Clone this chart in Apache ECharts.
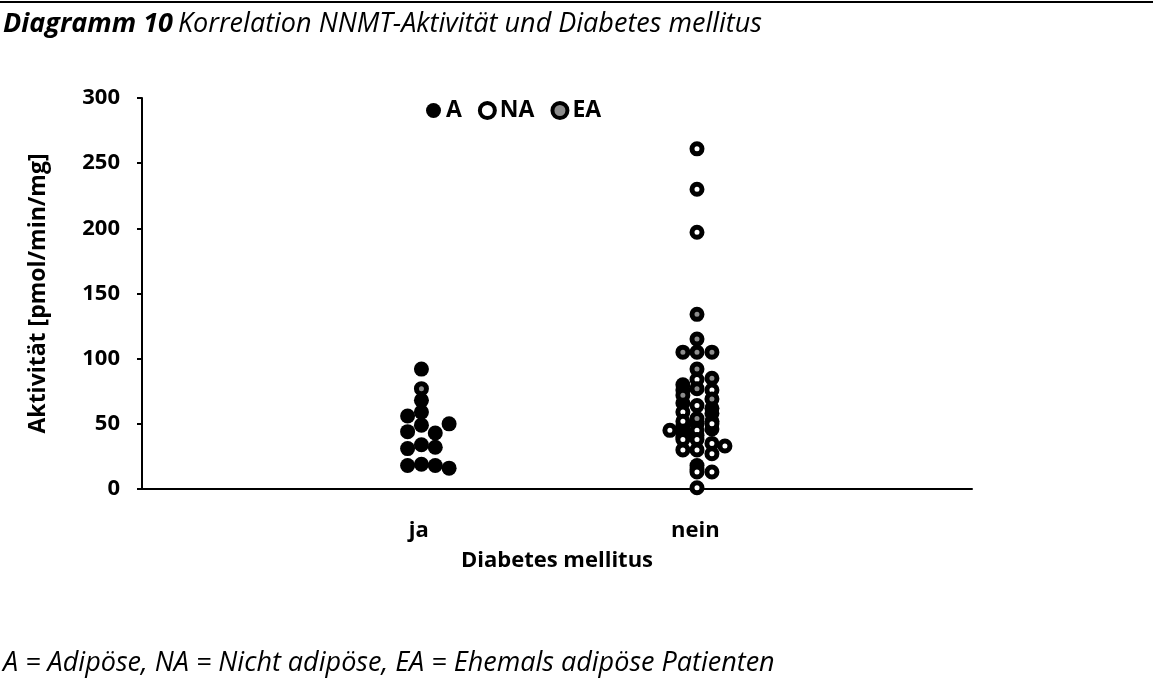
<!DOCTYPE html>
<html>
<head>
<meta charset="utf-8">
<script src="https://cdn.jsdelivr.net/npm/echarts@6/dist/echarts.min.js"></script>
<style>
html,body{margin:0;padding:0;background:#fff;}
#c{width:1153px;height:700px;}
</style>
</head>
<body>
<div id="c"></div>
<script>
// Categories on the x axis (value 1 = ja, value 2 = nein)
const categories = ['ja', 'nein'];
const yTicks = [0, 50, 100, 150, 200, 250, 300];

// [x position (category value with spread), activity]
const seriesA = [
  [1.01, 92], [1.01, 68], [1.01, 59], [1.01, 49], [1.01, 34], [1.01, 19],
  [0.96, 56], [0.96, 44], [0.96, 31], [0.96, 18],
  [1.06, 43], [1.06, 32], [1.06, 18],
  [1.11, 50], [1.11, 16],
  [1.955, 80], [1.955, 76], [1.955, 66], [2.06, 62], [2.06, 58], [2.06, 52], [2.06, 46],
  [1.955, 48], [1.955, 44], [1.955, 40], [2.006, 50],
  [2.006, 41], [2.006, 18], [2.006, 15]
];
const seriesNA = [
  [2.006, 261], [2.006, 230], [2.006, 197],
  [2.006, 84], [2.06, 76], [2.006, 64], [1.955, 59], [1.955, 52], [2.06, 50],
  [2.006, 45], [1.908, 45], [1.955, 38], [2.006, 38], [2.06, 35], [2.107, 33],
  [1.955, 30], [2.006, 30], [2.06, 27], [2.006, 13], [2.06, 13], [2.006, 1]
];
const seriesEA = [
  [1.01, 77],
  [2.006, 134], [2.006, 115], [1.955, 105], [2.006, 105], [2.06, 105],
  [2.006, 92], [2.06, 85], [2.006, 77], [1.955, 72], [2.06, 69], [2.006, 54]
];

const chart = echarts.init(document.getElementById('c'), null, {renderer: 'canvas'});
const FONT = '"Open Sans", "Noto Sans", sans-serif';

chart.setOption({
  backgroundColor: '#fff',
  animation: false,
  title: [
    {
      left: 3, top: 11, padding: 0,
      text: '{b|Diagramm 10} {i|Korrelation NNMT-Aktivität und Diabetes mellitus}',
      textStyle: {
        rich: {
          b: {fontFamily: FONT, fontSize: 27, fontWeight: 'bold', fontStyle: 'italic', color: '#000'},
          i: {fontFamily: FONT, fontSize: 27, fontWeight: 'normal', fontStyle: 'italic', color: '#000'}
        }
      }
    },
    {
      left: 3, top: 650, padding: 0,
      text: 'A = Adipöse, NA = Nicht adipöse, EA = Ehemals adipöse Patienten',
      textStyle: {fontFamily: FONT, fontSize: 27, fontWeight: 'normal', fontStyle: 'italic', color: '#000'}
    }
  ],
  graphic: [
    {type: 'line', shape: {x1: 0, y1: 2, x2: 1153, y2: 2}, style: {stroke: '#000', lineWidth: 2}}
  ],
  legend: {
    left: 421, top: 94,
    icon: 'circle',
    itemWidth: 15, itemHeight: 15,
    itemGap: 16,
    textStyle: {fontFamily: FONT, fontSize: 23, fontWeight: 'bold', color: '#000'},
    data: [
      {name: 'A', itemStyle: {color: '#000', borderWidth: 0}},
      {name: 'NA', itemStyle: {color: '#fff', borderColor: '#000', borderWidth: 4}},
      {name: 'EA', itemStyle: {color: '#8c8c8c', borderColor: '#000', borderWidth: 4}}
    ]
  },
  grid: {left: 142, right: 181, top: 98, bottom: 211, containLabel: false},
  xAxis: {
    type: 'value', min: 0, max: 3, interval: 1,
    name: 'Diabetes mellitus', nameLocation: 'middle', nameGap: 61,
    nameTextStyle: {fontFamily: FONT, fontSize: 22, fontWeight: 'bold', color: '#000'},
    axisLine: {show: true, lineStyle: {color: '#000', width: 2}},
    axisTick: {show: false},
    splitLine: {show: false},
    axisLabel: {
      margin: 31,
      fontFamily: FONT, fontSize: 22, fontWeight: 'bold', color: '#000',
      formatter: v => (v >= 1 && v <= categories.length && Number.isInteger(v)) ? categories[v - 1] : ''
    }
  },
  yAxis: {
    type: 'value', min: yTicks[0], max: yTicks[yTicks.length - 1], interval: 50,
    name: 'Aktivität [pmol/min/mg]', nameLocation: 'middle', nameGap: 92, nameRotate: 90,
    nameTextStyle: {fontFamily: FONT, fontSize: 23, fontWeight: 'bold', color: '#000'},
    axisLine: {show: true, lineStyle: {color: '#000', width: 2}},
    axisTick: {show: true, inside: false, length: 5, lineStyle: {color: '#000', width: 2}},
    splitLine: {show: false},
    axisLabel: {margin: 22, fontFamily: FONT, fontSize: 22, fontWeight: 'bold', color: '#000'}
  },
  series: [
    {
      name: 'A', type: 'scatter', symbol: 'circle', symbolSize: 15,
      itemStyle: {color: '#000', opacity: 1},
      data: seriesA, z: 2
    },
    {
      name: 'NA', type: 'scatter', symbol: 'circle', symbolSize: 10,
      itemStyle: {color: '#fff', borderColor: '#000', borderWidth: 5, opacity: 1},
      data: seriesNA, z: 3
    },
    {
      name: 'EA', type: 'scatter', symbol: 'circle', symbolSize: 10,
      itemStyle: {color: '#8c8c8c', borderColor: '#000', borderWidth: 5, opacity: 1},
      data: seriesEA, z: 4
    }
  ]
});
</script>
</body>
</html>
